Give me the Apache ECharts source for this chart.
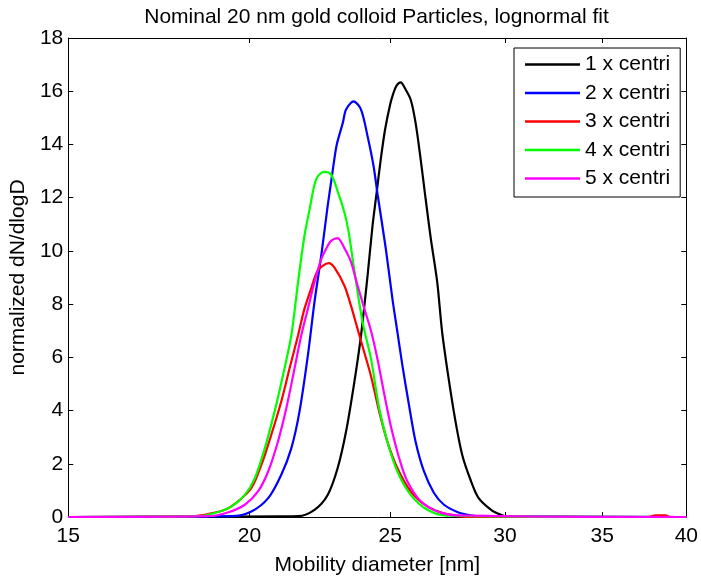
<!DOCTYPE html>
<html>
<head>
<meta charset="utf-8">
<script src="https://cdn.jsdelivr.net/npm/echarts@6/dist/echarts.min.js"></script>
<style>
  html, body { margin: 0; padding: 0; background: #ffffff; }
  #chart { width: 701px; height: 581px; }
</style>
</head>
<body>
<div id="chart"></div>
<script>
// Size distributions of nominal 20 nm gold colloid after repeated centrifugation.
// Each curve is a list of [mobility diameter (nm), normalized dN/dlogD].
const chartTitle = 'Nominal 20 nm gold colloid Particles, lognormal fit';
const xAxisTitle = 'Mobility diameter [nm]';
const yAxisTitle = 'normalized dN/dlogD';
const xTickLabels = [15, 20, 25, 30, 35, 40];
const yTickMin = 0, yTickMax = 18, yTickStep = 2;
const seriesNames = ['1 x centri', '2 x centri', '3 x centri', '4 x centri', '5 x centri'];
const seriesColors = ['#000000', '#0000ff', '#ff0000', '#00ff00', '#ff00ff'];

const centri1 = [
  [15, 0], [21.0, 0.02], [21.6, 0.03], [22.17, 0.27], [22.64, 0.83], [23.0, 1.83],
  [23.31, 3.21], [23.62, 5.08], [23.87, 6.82], [24.12, 9.07], [24.31, 10.94],
  [24.47, 12.19], [24.63, 13.44], [24.8, 14.56], [25.0, 15.5], [25.12, 15.9],
  [25.25, 16.2], [25.42, 16.33], [25.6, 16.1], [25.83, 15.68], [26.03, 14.81],
  [26.24, 13.44], [26.45, 11.94], [26.66, 10.5], [26.94, 8.82], [27.15, 6.95],
  [27.44, 5.15], [27.73, 3.6], [28.03, 2.33], [28.4, 1.4], [28.77, 0.71],
  [29.39, 0.24], [29.78, 0.09], [30.09, 0.02], [40, 0]
];
const centri2 = [
  [15, 0], [19.44, 0.03], [20.06, 0.21], [20.6, 0.71], [21.03, 1.58], [21.37, 2.58],
  [21.65, 3.96], [21.94, 6.07], [22.17, 8.07], [22.41, 9.82], [22.64, 11.69],
  [22.76, 12.56], [22.88, 13.44], [22.97, 14.0], [23.19, 14.81], [23.31, 15.31],
  [23.59, 15.62], [23.87, 15.31], [24.12, 14.31], [24.35, 13.19], [24.51, 12.1],
  [24.83, 10.07], [25.09, 8.2], [25.29, 6.95], [25.49, 5.7], [25.76, 4.2],
  [26.03, 2.83], [26.38, 1.71], [26.8, 0.9], [27.23, 0.46], [27.81, 0.19],
  [28.4, 0.06], [29.0, 0.01], [40, 0]
];
const centri3 = [
  [15, 0], [18.25, 0.03], [18.73, 0.11], [19.23, 0.27], [19.64, 0.59], [20.06, 1.09],
  [20.38, 1.96], [20.7, 3.08], [21.03, 4.33], [21.31, 5.58], [21.6, 6.82],
  [21.82, 7.82], [22.05, 8.57], [22.29, 9.26], [22.68, 9.54], [22.88, 9.38],
  [23.25, 8.69], [23.49, 7.95], [23.74, 7.07], [23.99, 6.2], [24.25, 5.3],
  [24.57, 3.96], [24.89, 2.83], [25.29, 1.83], [25.83, 0.96], [26.52, 0.4],
  [27.37, 0.11], [28.4, 0], [37.6, 0], [38.1, 0.06], [38.7, 0.06], [39.0, 0], [40, 0]
];
const centri4 = [
  [15, 0], [18.44, 0.03], [18.93, 0.15], [19.44, 0.4], [19.85, 0.83], [20.17, 1.46],
  [20.49, 2.58], [20.81, 3.96], [21.09, 5.33], [21.37, 6.82], [21.6, 8.82],
  [21.82, 10.56], [22.0, 11.56], [22.23, 12.69], [22.5, 12.97], [22.76, 12.87],
  [23.0, 12.25], [23.25, 11.44], [23.4, 10.75], [23.59, 9.45], [23.93, 7.32],
  [24.25, 5.95], [24.57, 4.08], [24.89, 2.83], [25.29, 1.71], [25.83, 0.83],
  [26.52, 0.27], [27.37, 0.05], [40, 0]
];
const centri5 = [
  [15, 0], [18.73, 0.03], [19.34, 0.18], [19.85, 0.46], [20.27, 0.96], [20.6, 1.71],
  [20.92, 2.83], [21.2, 4.08], [21.48, 5.58], [21.71, 6.82], [21.94, 7.82],
  [22.17, 8.82], [22.41, 9.69], [22.64, 10.19], [22.76, 10.38], [23.0, 10.48],
  [23.25, 10.1], [23.49, 9.6], [23.74, 8.7], [23.99, 7.85], [24.25, 7.0],
  [24.51, 5.9], [24.76, 4.65], [25.02, 3.45], [25.36, 2.21], [25.69, 1.34],
  [26.24, 0.59], [26.94, 0.21], [27.81, 0.06], [40, 0]
];
const seriesData = [centri1, centri2, centri3, centri4, centri5];

// The diameter axis is logarithmic: values are placed on a value axis in ln(d).
const FONT = '"Liberation Sans", Arial, Helvetica, sans-serif';
const FS = 21;
const toLn = d => Math.log(d);
const xMin = toLn(xTickLabels[0]);
const xMax = toLn(xTickLabels[xTickLabels.length - 1]);
const xTickPositions = xTickLabels.map(toLn);

const blackLine = { color: '#000000', width: 1 };
const textBase = { color: '#000000', fontFamily: FONT, fontSize: FS };

const chart = echarts.init(document.getElementById('chart'), null, { renderer: 'canvas' });

chart.setOption({
  animation: false,
  backgroundColor: '#ffffff',
  grid: { left: 66, right: 14, top: 38, bottom: 62, containLabel: false },
  graphic: [{
    type: 'text',
    x: 376.5,
    y: 17,
    style: {
      text: chartTitle,
      fill: '#000000',
      font: FS + 'px ' + FONT,
      textAlign: 'center',
      textVerticalAlign: 'middle'
    }
  }],
  legend: {
    orient: 'vertical',
    left: 514,
    top: 48,
    padding: [6, 10, 8, 11],
    itemGap: 7.5,
    itemWidth: 55,
    itemHeight: 2.5,
    icon: 'rect',
    borderColor: '#000000',
    borderWidth: 1,
    borderRadius: 0,
    backgroundColor: '#ffffff',
    textStyle: Object.assign({ lineHeight: 21 }, textBase),
    data: seriesNames
  },
  xAxis: [{
    type: 'value',
    position: 'bottom',
    min: xMin,
    max: xMax,
    axisLine: { show: true, onZero: false, lineStyle: blackLine },
    axisTick: { show: true, inside: true, length: 5, customValues: xTickPositions, lineStyle: blackLine },
    axisLabel: Object.assign({
      customValues: xTickPositions,
      margin: 9,
      formatter: v => String(Math.round(Math.exp(v)))
    }, textBase),
    splitLine: { show: false },
    name: xAxisTitle,
    nameLocation: 'middle',
    nameGap: 38,
    nameTextStyle: textBase
  }, {
    type: 'value',
    position: 'top',
    min: xMin,
    max: xMax,
    axisLine: { show: true, onZero: false, lineStyle: blackLine },
    axisTick: { show: true, inside: true, length: 5, customValues: xTickPositions, lineStyle: blackLine },
    axisLabel: { show: false },
    splitLine: { show: false }
  }],
  yAxis: [{
    type: 'value',
    position: 'left',
    min: yTickMin,
    max: yTickMax,
    interval: yTickStep,
    axisLine: { show: true, onZero: false, lineStyle: blackLine },
    axisTick: { show: true, inside: true, length: 5, lineStyle: blackLine },
    axisLabel: Object.assign({ margin: 5 }, textBase),
    splitLine: { show: false },
    name: yAxisTitle,
    nameLocation: 'middle',
    nameGap: 28,
    nameRotate: 90,
    nameTextStyle: textBase
  }, {
    type: 'value',
    position: 'right',
    min: yTickMin,
    max: yTickMax,
    interval: yTickStep,
    axisLine: { show: true, onZero: false, lineStyle: blackLine },
    axisTick: { show: true, inside: true, length: 5, lineStyle: blackLine },
    axisLabel: { show: false },
    splitLine: { show: false }
  }],
  series: seriesData.map((pts, i) => ({
    name: seriesNames[i],
    type: 'line',
    xAxisIndex: 0,
    yAxisIndex: 0,
    data: pts.map(([d, v]) => [toLn(d), v]),
    showSymbol: false,
    symbol: 'none',
    smooth: 0.3,
    clip: true,
    color: seriesColors[i],
    lineStyle: { color: seriesColors[i], width: 2.2 },
    emphasis: { disabled: true }
  }))
});
</script>
</body>
</html>
